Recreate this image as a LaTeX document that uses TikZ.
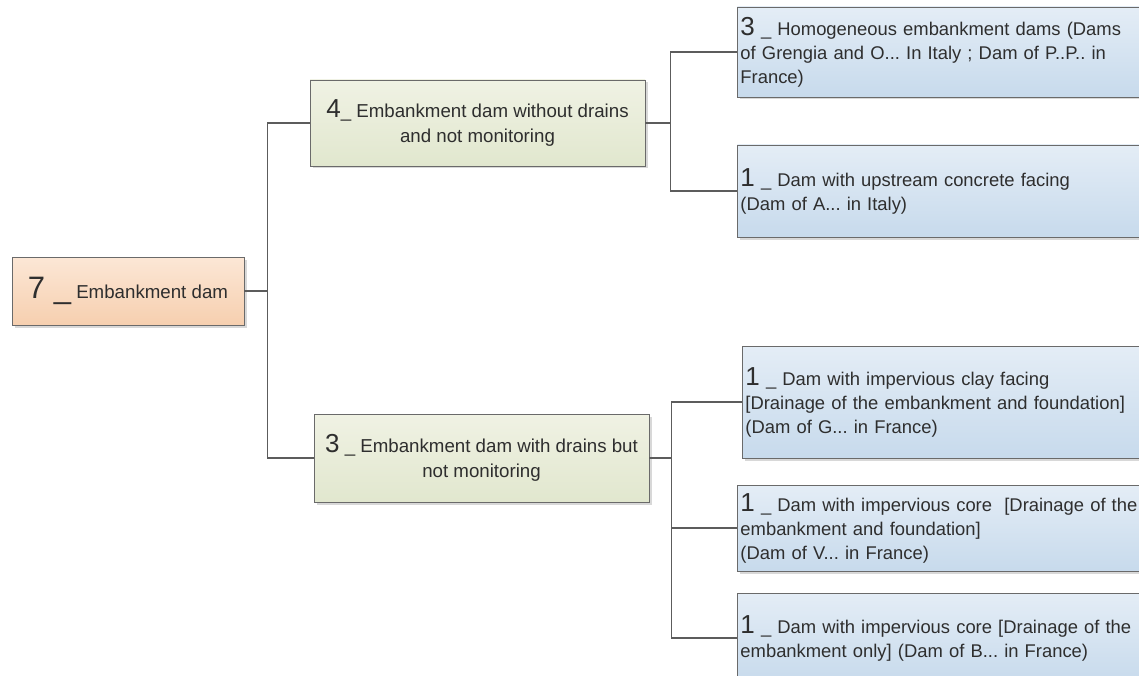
\documentclass[tikz,border=0pt]{standalone}
\usepackage{fontspec}
\setmainfont{Liberation Sans}
\usetikzlibrary{shadows}
\frenchspacing

\definecolor{boxline}{HTML}{6A6A6A}
\definecolor{linkgray}{HTML}{5C5C5C}
\definecolor{textgray}{HTML}{2E2E2E}
\definecolor{rootA}{HTML}{FCE7D6}
\definecolor{rootB}{HTML}{F6CFAF}
\definecolor{midA}{HTML}{F0F2E4}
\definecolor{midB}{HTML}{E1E7CE}
\definecolor{leafA}{HTML}{E4EDF6}
\definecolor{leafB}{HTML}{C7DAEC}

\newcommand{\damnum}[2][26]{{\fontsize{#1}{24}\selectfont #2}}

\begin{document}
\begin{tikzpicture}[x=1pt,y=-1pt,
                    box/.style={draw=boxline,line width=0.9pt,text=textgray,
                      drop shadow={shadow xshift=2.5pt,shadow yshift=-2.5pt,fill=black!30,opacity=0.5},
                      font=\fontsize{18.7}{25}\selectfont},
                    root node/.style={box,top color=rootA,bottom color=rootB,
                      minimum width=232pt,minimum height=68pt},
                    mid node/.style={box,top color=midA,bottom color=midB,
                      minimum width=335pt,align=center},
                    leaf node/.style={box,top color=leafA,bottom color=leafB,anchor=west,
                      text width=420pt,inner xsep=3pt,align=left,
                      font=\fontsize{18.4}{24}\selectfont},
                    link/.style={draw=linkgray,line width=1.1pt}]
  \useasboundingbox (0,0) rectangle (1139,676);
  \clip (0,0) rectangle (1139,676);

  \node[root node] (r) at (128,291) {\damnum[31]{7 \_} Embankment dam};

  \node[mid node,minimum height=86pt] (m1) at (477.5,123)
    {\damnum{4}\_ Embankment dam without drains\\ and not monitoring};
  \node[mid node,minimum height=88pt] (m2) at (481.5,458)
    {\damnum{3} \_ Embankment dam with drains but\\ not monitoring};

  \node[leaf node,minimum height=90pt] (l1) at (737,52)
    {\damnum{3} \_ Homogeneous embankment dams (Dams\\ of Grengia and O... In Italy ; Dam of P..P.. in\\ France)};
  \node[leaf node,minimum height=92pt] (l2) at (737,191)
    {\damnum{1} \_ Dam with upstream concrete facing\\ (Dam of A... in Italy)};
  \node[leaf node,minimum height=112pt] (l3) at (742,402)
    {\damnum{1} \_ Dam with impervious clay facing\\{}[Drainage of the embankment and foundation]\\ (Dam of G... in France)};
  \node[leaf node,minimum height=86pt] (l4) at (737,528)
    {\damnum{1} \_ Dam with impervious core~ [Drainage of the\\ embankment and foundation]\\ (Dam of V... in France)};
  \node[leaf node,minimum height=90pt] (l5) at (737,638)
    {\damnum{1} \_ Dam with impervious core [Drainage of the\\ embankment only] (Dam of B... in France)};

  % elbow connectors
  \draw[link] (r.east) -- ++(23,0) |- (m1.west);
  \draw[link] (r.east) -- ++(23,0) |- (m2.west);
  \draw[link] (m1.east) -- ++(25,0) |- (l1.west);
  \draw[link] (m1.east) -- ++(25,0) |- (l2.west);
  \draw[link] (m2.east) -- ++(22,0) |- (l3.west);
  \draw[link] (m2.east) -- ++(22,0) |- (l4.west);
  \draw[link] (m2.east) -- ++(22,0) |- (l5.west);
\end{tikzpicture}
\end{document}
